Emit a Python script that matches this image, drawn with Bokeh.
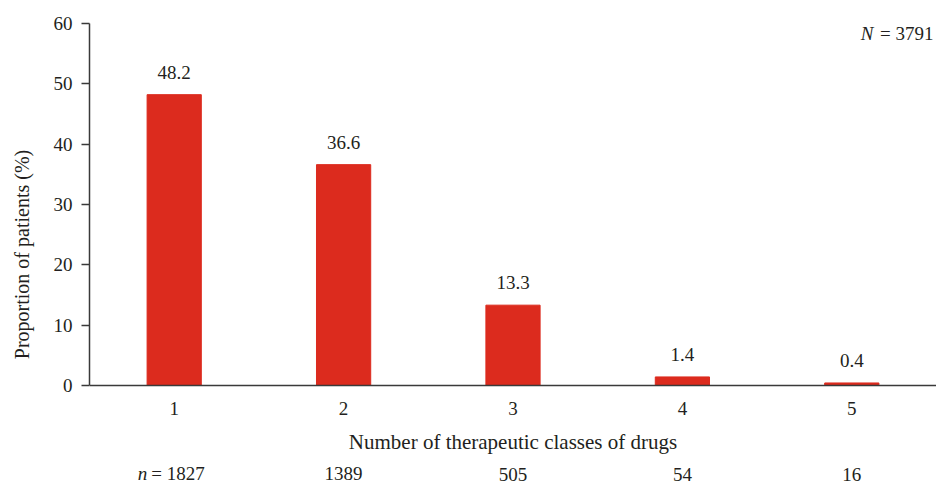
from bokeh.plotting import figure
from bokeh.models import ColumnDataSource, LabelSet, Label, FixedTicker, Range1d, Span
from bokeh.embed import file_html
from bokeh.resources import INLINE

# ---- data ----
classes = [1, 2, 3, 4, 5]
proportions = [48.2, 36.6, 13.3, 1.4, 0.4]
prop_labels = ["48.2", "36.6", "13.3", "1.4", "0.4"]
class_labels = ["1", "2", "3", "4", "5"]
counts = ["1827", "1389", "505", "54", "16"]
total_n = "3791"
y_ticks = [0, 10, 20, 30, 40, 50, 60]

FONT = "Liberation Serif"
FS = "19px"
FL = "20px"
FX = "21px"
TXT = "#231f20"
RED = "#DC2B1E"
AX = "#3a3a3a"

src = ColumnDataSource(dict(x=classes, top=proportions, lab=prop_labels))

# frame extends below zero so the category/count texts can sit under the axis line
p = figure(width=936, height=485, output_backend="svg", toolbar_location=None,
           x_range=Range1d(0.5, 5.5), y_range=Range1d(-16.6, 60),
           x_axis_location=None,
           min_border_left=89, min_border_right=0, min_border_top=23,
           min_border_bottom=0)
p.outline_line_color = None
p.grid.visible = False
p.background_fill_color = "white"
p.border_fill_color = "white"

p.vbar(x="x", top="top", bottom=0, width=0.32, color=RED, source=src)

p.add_layout(LabelSet(x="x", y="top", text="lab", source=src, text_align="center",
                      text_baseline="alphabetic", y_offset=16,
                      text_font=FONT, text_font_size=FS, text_color=TXT))

# x axis line at zero
p.add_layout(Span(location=0, dimension="width", line_color=AX, line_width=1.5))

# category tick labels
cat_src = ColumnDataSource(dict(x=classes, y=[0] * len(classes), lab=class_labels))
p.add_layout(LabelSet(x="x", y="y", text="lab", source=cat_src, text_align="center",
                      text_baseline="alphabetic", y_offset=-30,
                      text_font=FONT, text_font_size=FS, text_color=TXT))

# x axis title
p.add_layout(Label(x=3, y=0, text="Number of therapeutic classes of drugs",
                   text_align="center", text_baseline="middle", y_offset=-57,
                   text_font=FONT, text_font_size=FX, text_color=TXT))

ya = p.yaxis[0]
ya.ticker = FixedTicker(ticks=y_ticks)
ya.bounds = (0, 60)
ya.minor_tick_line_color = None
ya.major_tick_in = 0
ya.major_tick_out = 8
ya.major_tick_line_color = AX
ya.major_tick_line_width = 1.5
ya.axis_line_color = AX
ya.axis_line_width = 1.5
ya.major_label_standoff = 9
ya.major_label_text_font = FONT
ya.major_label_text_font_size = FS
ya.major_label_text_color = TXT
ya.axis_label = "Proportion of patients (%)"
ya.axis_label_text_font = FONT
ya.axis_label_text_font_size = FL
ya.axis_label_text_font_style = "normal"
ya.axis_label_text_color = TXT
ya.axis_label_standoff = 18

# N = total label (top right)
p.add_layout(Label(x=5.5, y=60, text="= " + total_n, text_align="right",
                   text_baseline="middle", x_offset=-3, y_offset=-10,
                   text_font=FONT, text_font_size=FS, text_color=TXT))
p.add_layout(Label(x=5.5, y=60, text="N", text_align="right",
                   text_baseline="middle", x_offset=-63, y_offset=-10,
                   text_font=FONT, text_font_size=FS, text_font_style="italic",
                   text_color=TXT))

# n counts under the axis
dy = [-88, -88, -89, -89, -89]
for i, (c, cnt) in enumerate(zip(classes, counts)):
    if i == 0:
        p.add_layout(Label(x=c, y=0, text="n", text_align="right", text_baseline="middle",
                           x_offset=-27, y_offset=dy[i], text_font=FONT, text_font_size=FS,
                           text_font_style="italic", text_color=TXT))
        p.add_layout(Label(x=c, y=0, text="= " + cnt, text_align="left", text_baseline="middle",
                           x_offset=-23, y_offset=dy[i], text_font=FONT, text_font_size=FS,
                           text_color=TXT))
    else:
        p.add_layout(Label(x=c, y=0, text=cnt, text_align="center", text_baseline="middle",
                           y_offset=dy[i], text_font=FONT, text_font_size=FS, text_color=TXT))

open("out.html", "w").write(file_html(p, INLINE))
